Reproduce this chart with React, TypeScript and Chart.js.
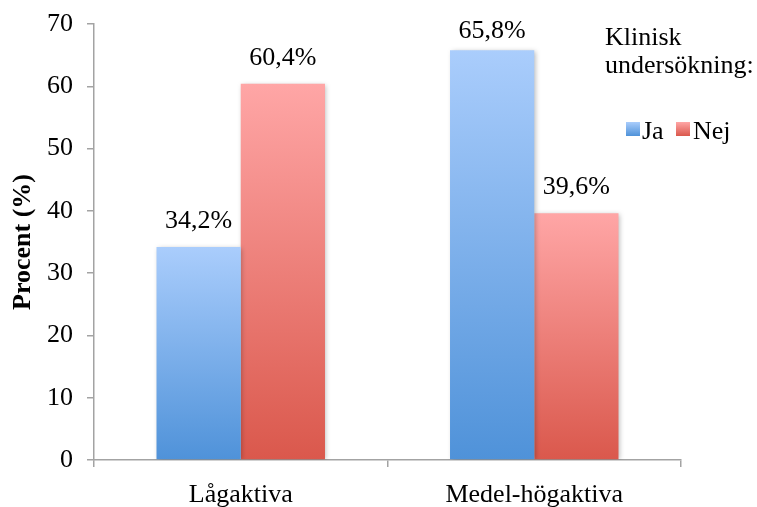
import React, { useEffect, useRef } from "react";
import { Chart, registerables } from "chart.js";

Chart.register(...registerables);

// Activity groups on the x axis
const categories: string[] = ["Lågaktiva", "Medel-högaktiva"];
// Share (%) per group, split by clinical examination
const jaValues: number[] = [34.2, 65.8];
const nejValues: number[] = [60.4, 39.6];
const seriesNames: string[] = ["Ja", "Nej"];
const legendTitle: string[] = ["Klinisk", "undersökning:"];
const yAxisTitle = "Procent (%)";
const yMin = 0;
const yMax = 70;
const yStep = 10;

const FONT = "'Liberation Serif', 'Times New Roman', serif";
const AXIS_GREY = "#a3a3a3";

const BLUE_TOP = "#aacdfc";
const BLUE_BOTTOM = "#4f92d9";
const RED_TOP = "#ffa6a6";
const RED_BOTTOM = "#da584c";

function barFill(top: string, bottom: string) {
  return (ctx: any) => {
    const chart = ctx.chart;
    const area = chart.chartArea;
    const yScale = chart.scales?.y;
    if (!area || !yScale || ctx.type !== "data") return bottom;
    const y0 = yScale.getPixelForValue(0);
    const y1 = yScale.getPixelForValue(ctx.raw);
    if (!isFinite(y0) || !isFinite(y1) || y0 === y1) return bottom;
    const g = chart.ctx.createLinearGradient(0, y1, 0, y0);
    g.addColorStop(0, top);
    g.addColorStop(1, bottom);
    return g;
  };
}

const decorPlugin = {
  id: "decor",
  beforeDatasetsDraw(chart: any) {
    const c = chart.ctx;
    c.save();
    c.shadowColor = "rgba(0,0,0,0.28)";
    c.shadowBlur = 5;
    c.shadowOffsetX = 1.5;
    c.shadowOffsetY = 1;
  },
  afterDatasetsDraw(chart: any) {
    const c = chart.ctx;
    c.restore();
    const area = chart.chartArea;

    // value labels above each bar
    c.save();
    c.font = `26px ${FONT}`;
    c.fillStyle = "#000";
    c.textAlign = "center";
    c.textBaseline = "alphabetic";
    chart.data.datasets.forEach((ds: any, di: number) => {
      const meta = chart.getDatasetMeta(di);
      meta.data.forEach((bar: any, i: number) => {
        const v = ds.data[i] as number;
        const text = v.toFixed(1).replace(".", ",") + "%";
        const y = Math.max(bar.y - 19, area.top + 14);
        c.fillText(text, bar.x, y);
      });
    });

    // legend on the right
    c.textAlign = "left";
    c.fillText(legendTitle[0], 605, 45);
    c.fillText(legendTitle[1], 605, 73);

    const items = [
      { name: seriesNames[0], x: 626, top: BLUE_TOP, bottom: BLUE_BOTTOM, tx: 642 },
      { name: seriesNames[1], x: 676, top: RED_TOP, bottom: RED_BOTTOM, tx: 693 },
    ];
    items.forEach((it) => {
      const g = c.createLinearGradient(0, 122, 0, 136);
      g.addColorStop(0, it.top);
      g.addColorStop(1, it.bottom);
      c.fillStyle = g;
      c.fillRect(it.x, 122, 14, 14);
      c.fillStyle = "#000";
      c.fillText(it.name, it.tx, 139);
    });
    c.restore();
  },
};

export default function App() {
  const canvasRef = useRef<HTMLCanvasElement | null>(null);

  useEffect(() => {
    if (!canvasRef.current) return;
    const yTickValues: number[] = [];
    for (let v = yMin; v <= yMax; v += yStep) yTickValues.push(v);

    const chart = new Chart(canvasRef.current, {
      type: "bar",
      data: {
        labels: categories,
        datasets: [
          {
            label: seriesNames[0],
            data: jaValues,
            backgroundColor: barFill(BLUE_TOP, BLUE_BOTTOM),
            borderWidth: 0,
          },
          {
            label: seriesNames[1],
            data: nejValues,
            backgroundColor: barFill(RED_TOP, RED_BOTTOM),
            borderWidth: 0,
          },
        ],
      },
      options: {
        responsive: false,
        animation: false,
        events: [],
        layout: { padding: { top: 24, right: 76, left: 0, bottom: 0 } },
        datasets: {
          bar: { categoryPercentage: 0.574, barPercentage: 1 },
        },
        plugins: {
          legend: { display: false },
          tooltip: { enabled: false },
        },
        scales: {
          x: {
            type: "category",
            offset: true,
            grid: {
              display: true,
              offset: true,
              drawOnChartArea: false,
              drawTicks: true,
              tickLength: 7,
              color: AXIS_GREY,
              lineWidth: 1.5,
            },
            border: { display: true, color: AXIS_GREY, width: 1.5 },
            ticks: {
              color: "#000",
              padding: 13,
              font: { family: FONT, size: 26 },
              maxRotation: 0,
            },
            afterFit(scale: any) {
              scale.height = 47;
              scale.paddingLeft = 0;
              scale.paddingRight = 0;
            },
          },
          y: {
            min: yMin,
            max: yMax,
            afterBuildTicks(scale: any) {
              scale.ticks = yTickValues.map((v) => ({ value: v }));
            },
            grid: {
              display: true,
              drawOnChartArea: false,
              drawTicks: true,
              tickLength: 7,
              color: AXIS_GREY,
              lineWidth: 1.5,
            },
            border: { display: true, color: AXIS_GREY, width: 1.5 },
            ticks: {
              color: "#000",
              padding: 14,
              font: { family: FONT, size: 26 },
            },
            title: {
              display: true,
              text: yAxisTitle,
              color: "#000",
              font: { family: FONT, size: 26, weight: "bold" },
              padding: { top: 8, bottom: 0 },
            },
            afterFit(scale: any) {
              scale.width = 94;
              scale.paddingTop = 0;
              scale.paddingBottom = 0;
            },
          },
        },
      },
      plugins: [decorPlugin],
    });
    return () => chart.destroy();
  }, []);

  return (
    <div style={{ position: "fixed", left: 0, top: 0, width: 757, height: 507, background: "#fff" }}>
      <canvas ref={canvasRef} width={757} height={507} />
    </div>
  );
}
